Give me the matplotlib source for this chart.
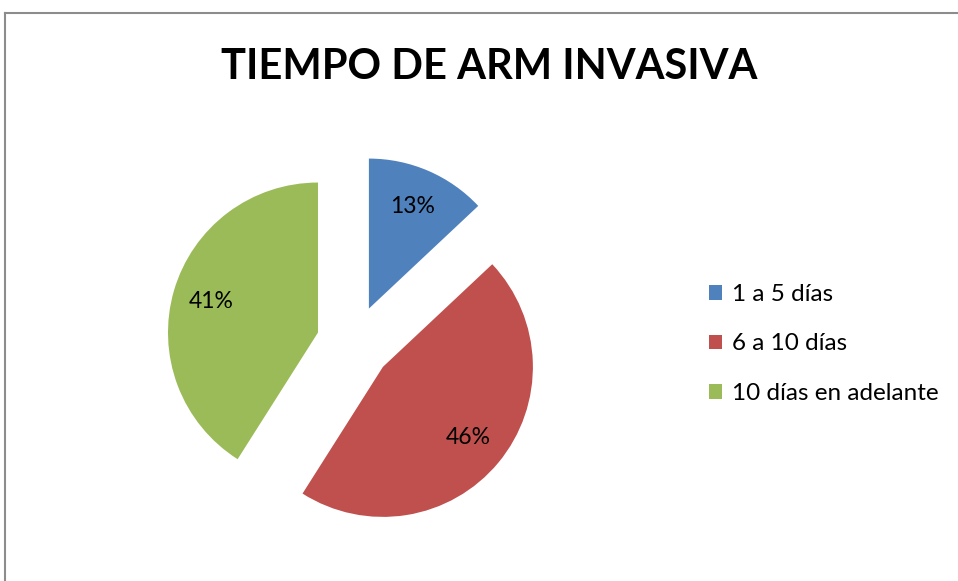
import matplotlib
matplotlib.use('Agg')
import matplotlib.pyplot as plt
from matplotlib.lines import Line2D

# data
labels = ['1 a 5 días', '6 a 10 días', '10 días en adelante']
values = [13, 46, 41]
colors = ['#4F81BD', '#C0504D', '#9BBB59']
title = 'TIEMPO DE ARM INVASIVA'

plt.rcParams['font.family'] = ['Lato', 'DejaVu Sans']

W, H = 958, 581
fig = plt.figure(figsize=(W / 100, H / 100), dpi=100)

# gray chart frame (top and left edges visible)
fig.add_artist(Line2D([4.5 / W, 4.5 / W], [0, 1 - 13 / H], transform=fig.transFigure,
                      color='#8c8c8c', lw=1.5))
fig.add_artist(Line2D([4.5 / W, 1], [1 - 13 / H, 1 - 13 / H], transform=fig.transFigure,
                      color='#8c8c8c', lw=1.5))

fig.text(489 / W, 1 - 67 / H, title, ha='center', va='center',
         fontsize=30, fontweight='bold')

# pie centre at (354, 343) px, radius 150 px
r = 150
half = 200
ax = fig.add_axes([(354 - half) / W, (H - 343 - half) / H, 2 * half / W, 2 * half / H])
wedges, texts, autotexts = ax.pie(values, colors=colors, startangle=90, counterclock=False,
                                  explode=[0.25] * len(values), autopct='%1.0f%%',
                                  pctdistance=0.74, textprops={'fontsize': 16.5})
ax.set_xlim(-half / r, half / r)
ax.set_ylim(-half / r, half / r)
ax.set_aspect('equal')
ax.axis('off')

fig.legend(wedges, labels, loc='center left', bbox_to_anchor=(709 / W, 1 - 344 / H),
           frameon=False, fontsize=17.5, handlelength=0.55, handleheight=0.55,
           handletextpad=0.4, labelspacing=1.17, borderpad=0, borderaxespad=0)

fig.savefig('out.png', dpi=100)
